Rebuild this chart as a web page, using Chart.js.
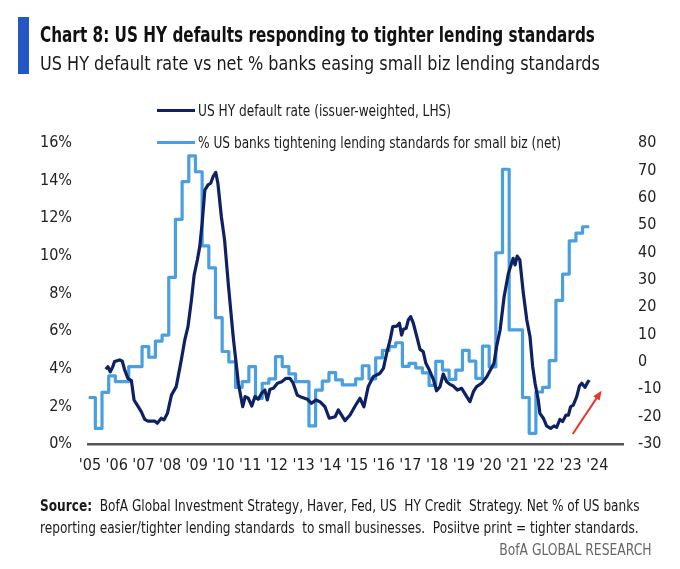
<!DOCTYPE html>
<html>
<head>
<meta charset="utf-8">
<script src="https://cdn.jsdelivr.net/npm/chart.js@4.4.1/dist/chart.umd.min.js"></script>
<style>
  body { margin: 0; background: #fff; }
  #page {
    position: relative; width: 680px; height: 569px; overflow: hidden;
    font-family: "Liberation Sans Narrow", "DejaVu Sans Condensed", "Roboto", sans-serif;
    color: #111;
  }
  #chart { position: absolute; left: 0; top: 0; }
  .narrow { display: inline-block; transform-origin: 0 0; white-space: pre; }
  .bar { position: absolute; left: 18px; top: 17px; width: 11px; height: 57px; background: #2457c5; }
  .title { position: absolute; left: 40px; top: 23px; font-size: 21px; line-height: 24px; font-weight: bold; white-space: nowrap; }
  .title .narrow { transform: scaleX(0.808); }
  .subtitle { position: absolute; left: 40px; top: 51px; font-size: 20px; line-height: 24px; white-space: nowrap; color: #1a1a1a; }
  .subtitle .narrow { transform: scaleX(0.893); }
  .legend-row { position: absolute; left: 157px; font-size: 16px; line-height: 20px; white-space: nowrap; color: #1a1a1a; }
  .legend-row .swatch { display: inline-block; width: 38px; height: 3px; vertical-align: middle; margin-right: 3px; position: relative; top: -1px; }
  .legend-row .narrow { transform: scaleX(0.845); vertical-align: top; }
  .footer { position: absolute; left: 40px; font-size: 15px; line-height: 22px; white-space: pre; color: #1a1a1a; }
  .footer .narrow { transform: scaleX(0.9); }
  .brand { position: absolute; right: 28px; top: 539px; font-size: 15px; line-height: 22px; color: #666; white-space: nowrap; }
  .brand .narrow { transform: scaleX(0.915); transform-origin: 100% 0; }
</style>
</head>
<body>
<div id="page">
  <canvas id="chart" width="680" height="569"></canvas>
  <div class="bar"></div>
  <div class="title"><span class="narrow">Chart 8: US HY defaults responding to tighter lending standards</span></div>
  <div class="subtitle"><span class="narrow">US HY default rate vs net % banks easing small biz lending standards</span></div>
  <div id="legend"></div>
  <div class="footer" style="top:495px"><span class="narrow"><b>Source:</b>  BofA Global Investment Strategy, Haver, Fed, US  HY Credit  Strategy. Net % of US banks</span></div>
  <div class="footer" style="top:517px"><span class="narrow">reporting easier/tighter lending standards  to small businesses.  Posiitve print = tighter standards.</span></div>
  <div class="brand"><span class="narrow">BofA GLOBAL RESEARCH</span></div>
</div>
<script>
// Подписи оси X (годы) и их позиции в десятичных годах
const xTickYears = [2005, 2006, 2007, 2008, 2009, 2010, 2011, 2012, 2013, 2014,
                    2015, 2016, 2017, 2018, 2019, 2020, 2021, 2022, 2023, 2024];
const xTickLabels = ["'05", "'06", "'07", "'08", "'09", "'10", "'11", "'12", "'13", "'14",
                     "'15", "'16", "'17", "'18", "'19", "'20", "'21", "'22", "'23", "'24"];

// US HY default rate, % (LHS) — даты в десятичных годах
const hyDates = [
  2005.59, 2005.67, 2005.76, 2005.85, 2005.92, 2006.11, 2006.21, 2006.30, 2006.42, 2006.55,
  2006.65, 2006.77, 2006.92, 2007.05, 2007.17, 2007.42, 2007.52, 2007.67, 2007.77, 2007.90,
  2008.05, 2008.23, 2008.42, 2008.55, 2008.67, 2008.80, 2008.90, 2009.02, 2009.11, 2009.20,
  2009.30, 2009.42, 2009.52, 2009.61, 2009.71, 2009.79, 2009.92, 2010.04, 2010.18, 2010.37,
  2010.56, 2010.72, 2010.81, 2010.93, 2011.06, 2011.18, 2011.30, 2011.43, 2011.55, 2011.64,
  2011.74, 2011.87, 2012.02, 2012.18, 2012.34, 2012.49, 2012.61, 2012.76, 2012.93, 2013.14,
  2013.30, 2013.46, 2013.61, 2013.80, 2013.96, 2014.18, 2014.30, 2014.55, 2014.74, 2014.93,
  2015.11, 2015.26, 2015.42, 2015.61, 2015.85, 2015.99, 2016.11, 2016.24, 2016.34, 2016.49,
  2016.59, 2016.67, 2016.74, 2016.84, 2016.92, 2017.01, 2017.11, 2017.24, 2017.36, 2017.48,
  2017.58, 2017.71, 2017.86, 2017.98, 2018.11, 2018.23, 2018.36, 2018.48, 2018.61, 2018.76,
  2018.92, 2019.11, 2019.23, 2019.36, 2019.48, 2019.67, 2019.86, 2019.98, 2020.13, 2020.23,
  2020.36, 2020.51, 2020.67, 2020.79, 2020.85, 2020.92, 2021.00, 2021.10, 2021.23, 2021.36,
  2021.48, 2021.58, 2021.67, 2021.79, 2021.85, 2021.98, 2022.10, 2022.25, 2022.38, 2022.48,
  2022.60, 2022.70, 2022.83, 2022.92, 2023.00, 2023.10, 2023.23, 2023.33, 2023.42, 2023.54,
  2023.62, 2023.70
];
const hyRates = [
  3.97, 4.11, 3.84, 4.10, 4.38, 4.47, 4.40, 3.93, 3.49, 3.37,
  2.34, 2.07, 1.72, 1.31, 1.22, 1.22, 1.10, 1.37, 1.28, 1.63,
  2.60, 3.05, 4.47, 5.53, 6.24, 7.66, 8.98, 9.78, 10.49, 11.73,
  13.50, 13.77, 13.86, 14.21, 14.44, 13.86, 12.08, 10.85, 8.50, 5.60,
  3.20, 1.98, 2.52, 2.43, 2.02, 2.52, 2.38, 2.70, 2.87, 2.34,
  2.91, 2.96, 3.23, 3.31, 3.49, 3.49, 3.23, 2.60, 2.48, 2.38,
  2.16, 2.34, 2.25, 1.98, 1.37, 1.45, 1.81, 1.24, 1.54, 2.02,
  2.43, 1.98, 3.05, 3.58, 3.75, 4.02, 4.82, 5.53, 6.24, 6.27,
  6.42, 5.79, 6.10, 6.15, 6.59, 6.77, 6.42, 5.71, 5.03, 4.91,
  4.29, 3.93, 3.44, 2.83, 3.05, 3.72, 3.31, 3.17, 3.08, 2.87,
  2.96, 2.52, 2.25, 2.78, 3.05, 3.23, 3.58, 3.90, 4.29, 5.20,
  6.06, 7.83, 9.07, 9.61, 9.87, 9.52, 9.99, 9.78, 8.01, 6.59,
  5.71, 4.11, 3.23, 2.34, 1.63, 1.37, 0.96, 0.83, 0.96, 0.89,
  1.31, 1.19, 1.54, 1.54, 1.98, 2.07, 2.52, 3.08, 3.23, 3.01,
  3.23, 3.40
];

// Net % US banks tightening standards for small biz (RHS), квартальные значения
const lendingStart = 2004.95;   // начало первого квартала на оси, десятичный год
const lendingNet = [
  -13.0, -24.3, -11.1, -5.1, -7.2, -7.2, -1.7, -1.7, 5.6, 1.7,
  7.6, 9.8, 30.9, 52.1, 65.9, 75.3, 69.5, 42.4, 34.4, 16.2,
  3.8, 0.0, -9.3, -7.2, -1.7, -13.3, -7.8, -6.2, 1.9, -1.7,
  -4.4, -7.2, -7.2, -23.4, -10.3, -7.0, -3.9, -6.6, -8.4, -8.4,
  -6.2, -1.4, -6.2, 1.5, 4.2, 5.6, 7.0, -1.6, -0.5, -2.2,
  -4.0, -8.6, 0.2, -3.0, -6.4, -3.0, 4.2, 0.3, -6.0, 5.8,
  -1.8, 39.9, 70.4, 11.7, 11.7, -13.0, -26.1, -11.0, -9.3, 0.5,
  22.5, 32.1, 44.2, 47.1, 49.4
];

// Красная стрелка (в координатах данных: год, % LHS)
const arrowFrom = [2023.08, 0.53];
const arrowTo = [2024.16, 2.83];

const FONT_FAMILY = '"Liberation Sans Narrow", "DejaVu Sans Condensed", "Roboto", sans-serif';
const NAVY = '#0d2163';
const SKY = '#4a9fe0';

/**
 * Плагин: рисует стрелку тренда поверх линий.
 */
const trendArrowPlugin = {
  id: 'trendArrow',
  afterDatasetsDraw(chart) {
    const { ctx, scales } = chart;
    const x1 = scales.x.getPixelForValue(arrowFrom[0]);
    const y1 = scales.y.getPixelForValue(arrowFrom[1]);
    const x2 = scales.x.getPixelForValue(arrowTo[0]);
    const y2 = scales.y.getPixelForValue(arrowTo[1]);
    const angle = Math.atan2(y2 - y1, x2 - x1);
    const head = 10;
    ctx.save();
    ctx.strokeStyle = '#e8372a';
    ctx.fillStyle = '#e8372a';
    ctx.lineWidth = 2;
    ctx.beginPath();
    ctx.moveTo(x1, y1);
    ctx.lineTo(x2 - Math.cos(angle) * head * 0.8, y2 - Math.sin(angle) * head * 0.8);
    ctx.stroke();
    ctx.beginPath();
    ctx.moveTo(x2, y2);
    ctx.lineTo(x2 - head * Math.cos(angle - 0.4), y2 - head * Math.sin(angle - 0.4));
    ctx.lineTo(x2 - head * Math.cos(angle + 0.4), y2 - head * Math.sin(angle + 0.4));
    ctx.closePath();
    ctx.fill();
    ctx.restore();
  }
};

class DefaultsChart {
  constructor(canvasId) {
    this.canvas = document.getElementById(canvasId);
    this.chartInstance = null;
  }

  /** Собирает HTML-легенду */
  renderLegend() {
    const items = [
      { color: NAVY, text: 'US HY default rate (issuer-weighted, LHS)', top: 101 },
      { color: SKY, text: '% US banks tightening lending standards for small biz (net)', top: 133 }
    ];
    const root = document.getElementById('legend');
    items.forEach(item => {
      const row = document.createElement('div');
      row.className = 'legend-row';
      row.style.top = item.top + 'px';
      const sw = document.createElement('span');
      sw.className = 'swatch';
      sw.style.background = item.color;
      row.appendChild(sw);
      const label = document.createElement('span');
      label.className = 'narrow';
      label.textContent = item.text;
      row.appendChild(label);
      root.appendChild(row);
    });
  }

  _buildDatasets() {
    const hyPoints = hyDates.map((d, i) => ({ x: d, y: hyRates[i] }));
    const lendingPoints = lendingNet.map((v, i) => ({ x: lendingStart + i * 0.25, y: v }));
    // последний шаг должен дойти до конца квартала
    lendingPoints.push({ x: lendingStart + lendingNet.length * 0.25, y: lendingNet[lendingNet.length - 1] });
    return [
      {
        label: 'US HY default rate (issuer-weighted, LHS)',
        data: hyPoints,
        yAxisID: 'y',
        borderColor: NAVY,
        borderWidth: 3.2,
        pointRadius: 0,
        tension: 0,
        borderJoinStyle: 'round'
      },
      {
        label: '% US banks tightening lending standards for small biz (net)',
        data: lendingPoints,
        yAxisID: 'y2',
        borderColor: SKY,
        borderWidth: 3.2,
        pointRadius: 0,
        stepped: true,
        borderJoinStyle: 'round'
      }
    ];
  }

  render() {
    const tickFont = { family: FONT_FAMILY, size: 16 };
    this.chartInstance = new Chart(this.canvas, {
      type: 'line',
      data: { datasets: this._buildDatasets() },
      options: {
        responsive: false,
        animation: false,
        layout: { padding: { top: 143, bottom: 89, left: 0, right: 0 } },
        plugins: { legend: { display: false }, tooltip: { enabled: false } },
        scales: {
          x: {
            type: 'linear',
            min: 2004.925,
            max: 2024.963,
            afterBuildTicks: scale => { scale.ticks = xTickYears.map(v => ({ value: v })); },
            afterFit: scale => { scale.height = 36; },
            grid: { display: false, drawTicks: false },
            border: { display: true, color: '#555', width: 2.5 },
            ticks: {
              autoSkip: false, maxRotation: 0, padding: 12,
              font: tickFont, color: '#222',
              callback: (v, i) => xTickLabels[i]
            }
          },
          y: {
            position: 'left',
            min: 0, max: 16,
            afterFit: scale => { scale.width = 88; },
            grid: { display: false, drawTicks: false },
            border: { display: false },
            ticks: { stepSize: 2, padding: 16, font: tickFont, color: '#222', callback: v => v + '%' }
          },
          y2: {
            position: 'right',
            min: -30, max: 80,
            afterFit: scale => { scale.width = 57; },
            grid: { display: false, drawTicks: false },
            border: { display: false },
            ticks: { stepSize: 10, padding: 15, font: tickFont, color: '#222' }
          }
        }
      },
      plugins: [trendArrowPlugin]
    });
  }
}

const chart = new DefaultsChart('chart');
chart.renderLegend();
chart.render();
</script>
</body>
</html>
